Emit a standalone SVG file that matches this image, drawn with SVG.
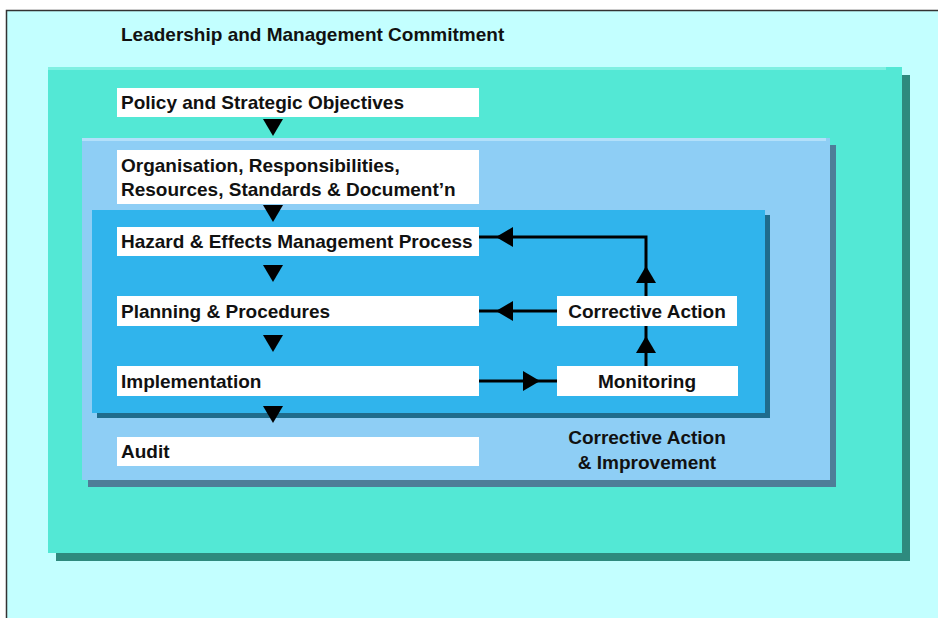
<svg xmlns="http://www.w3.org/2000/svg" xmlns:xlink="http://www.w3.org/1999/xlink" width="938" height="618" viewBox="0 0 938 618">
<style>
  .lbl { font-family: "Liberation Sans", Arial, sans-serif; font-weight: bold; font-size: 19px; fill: #111; }
  .box { fill: #ffffff; }
  .conn { stroke: #000; stroke-width: 3; fill: none; }
  .ah { fill: #000; }
</style>
<defs>
  <polygon id="ah" points="0,0 -17,-10 -17,10"/>
</defs>
<rect x="0" y="0" width="938" height="618" fill="#ffffff"/>
<g id="frame">
  <rect x="6" y="10" width="932" height="608" fill="#C3FFFF"/>
  <path d="M6.5,618 V10.5 H938" fill="none" stroke="#333" stroke-width="1.5"/>
</g>
<text class="lbl" x="121" y="41">Leadership and Management Commitment</text>
<g id="teal-area">
  <rect x="56" y="75" width="854" height="486" fill="#2E8A7E"/>
  <rect x="48" y="67" width="854" height="486" fill="#53E8D5"/>
  <rect x="48" y="67" width="838" height="3" fill="#7FF0E2"/>
</g>
<g id="lightblue-area">
  <rect x="88" y="145" width="748" height="342" fill="#4E7D98"/>
  <rect x="82" y="138" width="748" height="342" fill="#8ECEF5"/>
  <rect x="82" y="138" width="744" height="3" fill="#B3E0FA"/>
</g>
<g id="blue-area">
  <rect x="97" y="215" width="673" height="203" fill="#1F6C8C"/>
  <rect x="92" y="210" width="673" height="203" fill="#30B4EC"/>
</g>
<g id="policy">
  <rect class="box" x="117" y="88" width="362" height="29"/>
  <text class="lbl" x="121" y="109">Policy and Strategic Objectives</text>
</g>
<g id="organisation">
  <rect class="box" x="117" y="150" width="362" height="54"/>
  <text class="lbl" x="121" y="172">Organisation, Responsibilities,</text>
  <text class="lbl" x="121" y="196">Resources, Standards &amp; Document’n</text>
</g>
<g id="hazard">
  <rect class="box" x="117" y="227" width="362" height="29"/>
  <text class="lbl" x="121" y="248">Hazard &amp; Effects Management Process</text>
</g>
<g id="planning">
  <rect class="box" x="117" y="296" width="362" height="30"/>
  <text class="lbl" x="121" y="318">Planning &amp; Procedures</text>
</g>
<g id="implementation">
  <rect class="box" x="117" y="366" width="362" height="30"/>
  <text class="lbl" x="121" y="388">Implementation</text>
</g>
<g id="audit">
  <rect class="box" x="117" y="437" width="362" height="29"/>
  <text class="lbl" x="121" y="458">Audit</text>
</g>
<g id="corrective-action">
  <rect class="box" x="557" y="296" width="180" height="30"/>
  <text class="lbl" x="647" y="318" text-anchor="middle">Corrective Action</text>
</g>
<g id="monitoring">
  <rect class="box" x="557" y="366" width="181" height="30"/>
  <text class="lbl" x="647" y="388" text-anchor="middle">Monitoring</text>
</g>
<g id="improvement-label">
  <text class="lbl" x="647" y="444" text-anchor="middle">Corrective Action</text>
  <text class="lbl" x="647" y="469" text-anchor="middle">&amp; Improvement</text>
</g>
<g id="connectors">
  <use href="#ah" class="ah" transform="translate(273,136) rotate(90)"/>
  <use href="#ah" class="ah" transform="translate(273,222) rotate(90)"/>
  <use href="#ah" class="ah" transform="translate(273,282) rotate(90)"/>
  <use href="#ah" class="ah" transform="translate(273,352) rotate(90)"/>
  <use href="#ah" class="ah" transform="translate(273,423) rotate(90)"/>
  <path class="conn" d="M646,296 V237 H479"/>
  <use href="#ah" class="ah" transform="translate(496,237) rotate(180)"/>
  <use href="#ah" class="ah" transform="translate(646,266) rotate(-90)"/>
  <path class="conn" d="M557,311 H479"/>
  <use href="#ah" class="ah" transform="translate(496,311) rotate(180)"/>
  <path class="conn" d="M646,366 V326"/>
  <use href="#ah" class="ah" transform="translate(646,336) rotate(-90)"/>
  <path class="conn" d="M479,381 H557"/>
  <use href="#ah" class="ah" transform="translate(540,381)"/>
</g>
</svg>
